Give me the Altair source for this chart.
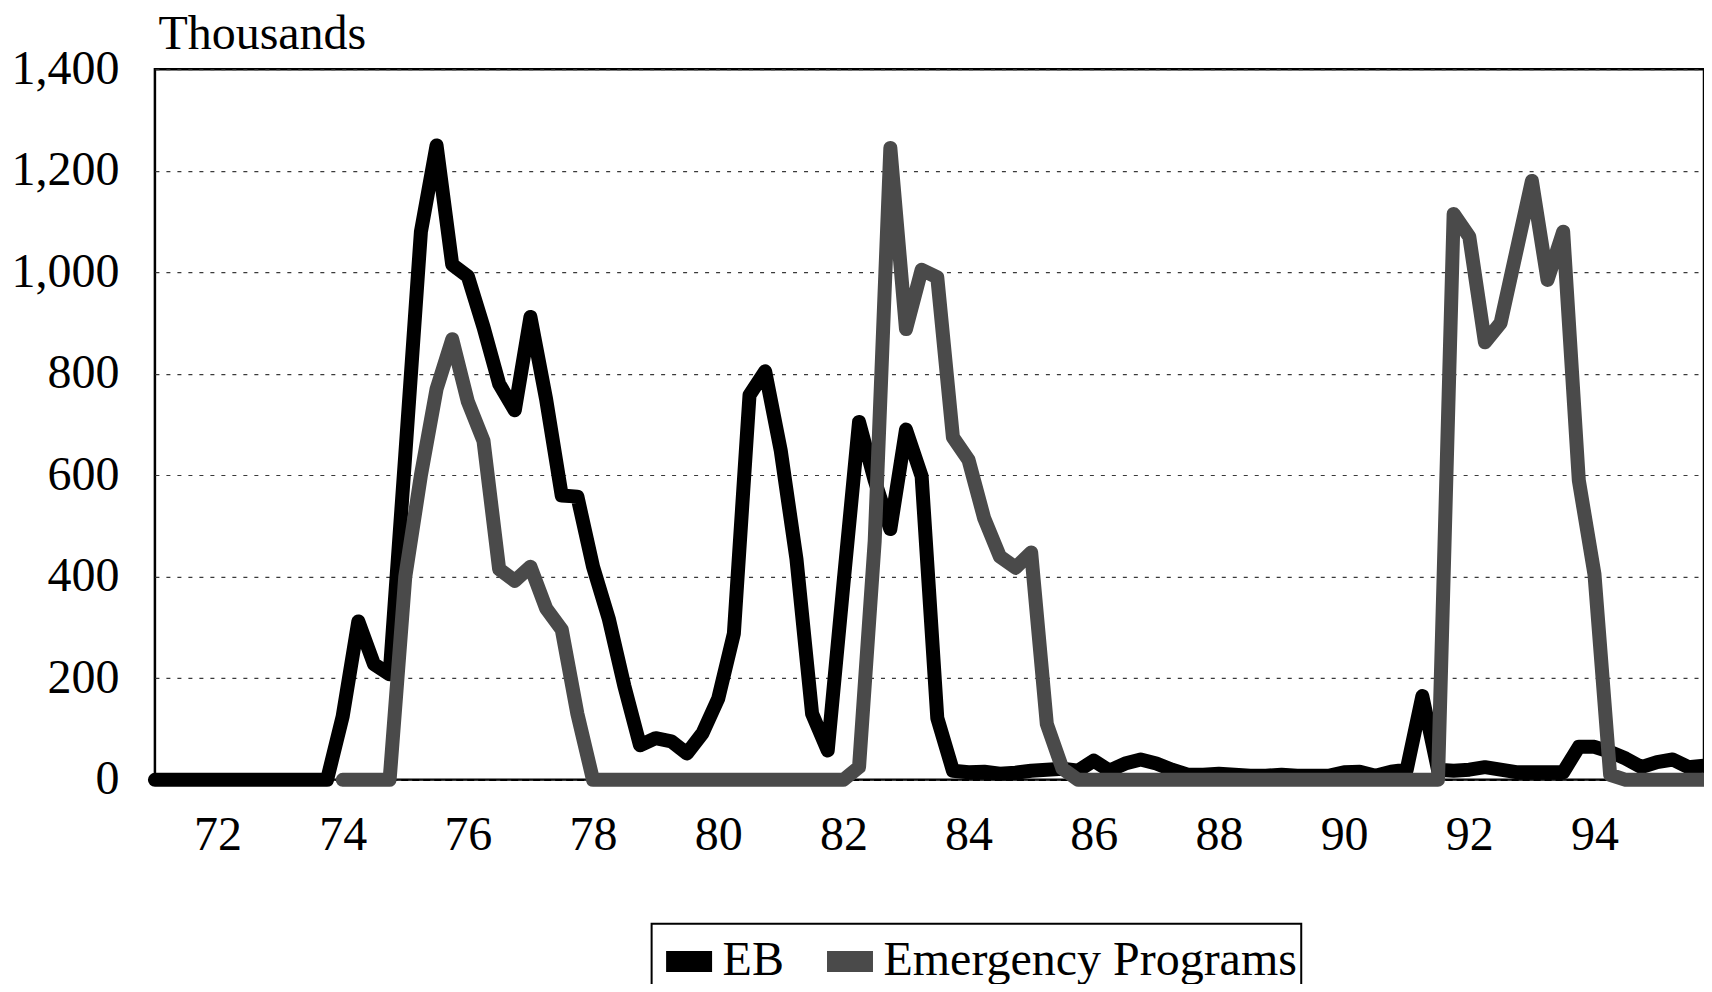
import altair as alt
import pandas as pd

# Quarterly observations, 1971Q1 .. 1995Q4 (thousands)
quarters = [
    "71Q1", "71Q2", "71Q3", "71Q4", "72Q1", "72Q2", "72Q3", "72Q4",
    "73Q1", "73Q2", "73Q3", "73Q4", "74Q1", "74Q2", "74Q3", "74Q4",
    "75Q1", "75Q2", "75Q3", "75Q4", "76Q1", "76Q2", "76Q3", "76Q4",
    "77Q1", "77Q2", "77Q3", "77Q4", "78Q1", "78Q2", "78Q3", "78Q4",
    "79Q1", "79Q2", "79Q3", "79Q4", "80Q1", "80Q2", "80Q3", "80Q4",
    "81Q1", "81Q2", "81Q3", "81Q4", "82Q1", "82Q2", "82Q3", "82Q4",
    "83Q1", "83Q2", "83Q3", "83Q4", "84Q1", "84Q2", "84Q3", "84Q4",
    "85Q1", "85Q2", "85Q3", "85Q4", "86Q1", "86Q2", "86Q3", "86Q4",
    "87Q1", "87Q2", "87Q3", "87Q4", "88Q1", "88Q2", "88Q3", "88Q4",
    "89Q1", "89Q2", "89Q3", "89Q4", "90Q1", "90Q2", "90Q3", "90Q4",
    "91Q1", "91Q2", "91Q3", "91Q4", "92Q1", "92Q2", "92Q3", "92Q4",
    "93Q1", "93Q2", "93Q3", "93Q4", "94Q1", "94Q2", "94Q3", "94Q4",
    "95Q1", "95Q2", "95Q3", "95Q4",
]

eb = [
    0, 0, 0, 0, 0, 0, 0, 0,
    0, 0, 0, 0, 125, 312, 228, 208,
    640, 1080, 1250, 1015, 992, 892, 780, 728,
    912, 750, 560, 558, 420, 318, 185, 68,
    82, 76, 52, 92, 160, 288, 758, 805,
    648, 435, 130, 58, 385, 705, 590, 494,
    690, 598, 122, 18, 15, 16, 12, 14,
    18, 20, 22, 18, 38, 18, 32, 40,
    32, 20, 10, 10, 12, 10, 8, 8,
    10, 8, 8, 8, 15, 16, 8, 16,
    20, 165, 20, 18, 20, 25, 20, 15,
    15, 15, 15, 65, 65, 55, 42, 25,
    35, 40, 25, 28,
]

emergency = [
    None, None, None, None, None, None, None, None,
    None, None, None, None, 0, 0, 0, 0,
    400, 600, 770, 868, 745, 668, 415, 392,
    420, 338, 296, 130, 0, 0, 0, 0,
    0, 0, 0, 0, 0, 0, 0, 0,
    0, 0, 0, 0, 0, 25, 470, 1245,
    888, 1005, 990, 675, 630, 515, 440, 418,
    448, 110, 22, 0, 0, 0, 0, 0,
    0, 0, 0, 0, 0, 0, 0, 0,
    0, 0, 0, 0, 0, 0, 0, 0,
    0, 0, 0, 1115, 1070, 862, 900, 1040,
    1180, 985, 1080, 590, 405, 10, 0, 0,
    0, 0, 0, 0,
]

series_names = ["EB", "Emergency Programs"]
series_colors = ["#000000", "#4a4a4a"]
year_ticks = [72, 74, 76, 78, 80, 82, 84, 86, 88, 90, 92, 94]
y_ticks = [0, 200, 400, 600, 800, 1000, 1200, 1400]


def quarter_to_year(q):
    return int(q[:2]) + (int(q[3]) - 1) / 4.0


rows = []
for q, a, b in zip(quarters, eb, emergency):
    t = quarter_to_year(q)
    rows.append({"t": t, "series": series_names[0], "value": a})
    rows.append({"t": t, "series": series_names[1], "value": b})
df = pd.DataFrame(rows)

FONT = "Liberation Serif"
FS = 48

chart = (
    alt.Chart(df)
    .mark_line(strokeWidth=14, strokeJoin="round", strokeCap="round")
    .encode(
        x=alt.X(
            "t:Q",
            scale=alt.Scale(domain=[71, 95.75], nice=False, zero=False),
            axis=alt.Axis(
                values=year_ticks,
                format="d",
                title=None,
                grid=False,
                ticks=False,
                domain=False,
                labelPadding=32,
                labelFontSize=FS,
                labelFont=FONT,
                labelColor="#000",
            ),
        ),
        y=alt.Y(
            "value:Q",
            scale=alt.Scale(domain=[0, 1400], nice=False),
            axis=alt.Axis(
                values=y_ticks,
                format=",d",
                title="Thousands",
                titleAngle=0,
                titleAlign="left",
                titleBaseline="alphabetic",
                titleX=3,
                titleY=-21,
                titleFont=FONT,
                titleFontSize=FS,
                titleFontWeight="normal",
                titleColor="#000",
                grid=True,
                gridDash=[4, 7],
                gridColor="#3a3a3a",
                gridWidth=1.2,
                ticks=False,
                domain=False,
                labelPadding=36,
                labelFontSize=FS,
                labelFont=FONT,
                labelColor="#000",
            ),
        ),
        color=alt.Color(
            "series:N",
            scale=alt.Scale(domain=series_names, range=series_colors),
            legend=alt.Legend(
                title=None,
                orient="none",
                legendX=497,
                legendY=855,
                direction="horizontal",
                symbolType="stroke",
                symbolSize=2116,
                symbolStrokeWidth=21,
                symbolOpacity=1,
                labelFont=FONT,
                labelFontSize=FS,
                labelColor="#000",
                labelLimit=0,
                labelOffset=0,
                columnPadding=0,
                padding=4,
                strokeColor="#000",
            ),
        ),
    )
    .properties(
        width=1550,
        height=711,
        padding={"left": 147, "top": 61, "right": 0, "bottom": 204},
        autosize=alt.AutoSizeParams(type="none"),
        background="white",
    )
    .configure_view(stroke="#000", strokeWidth=2.5)
    .configure_legend(strokeWidth=2)
)

chart.save("out.html", embed_options={"renderer": "svg", "actions": False})
